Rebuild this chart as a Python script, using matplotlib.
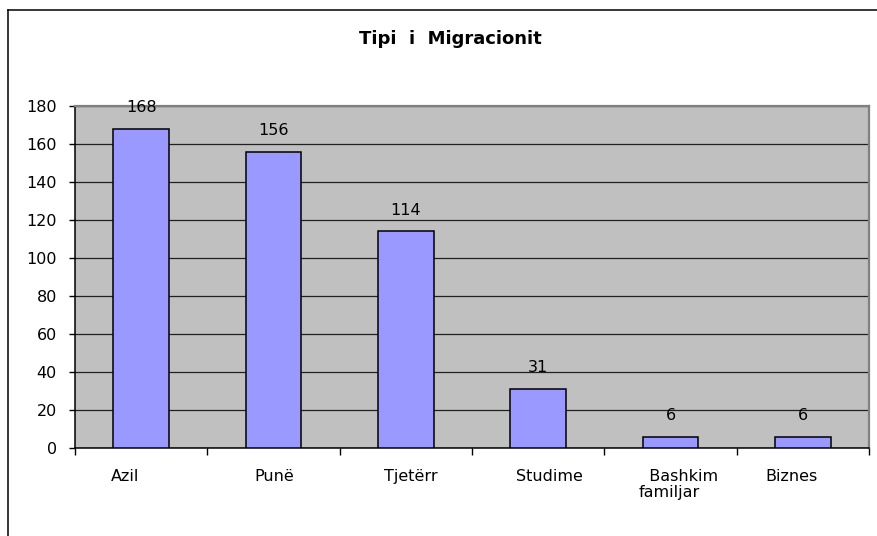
import matplotlib
matplotlib.use("Agg")
import matplotlib.pyplot as plt
from matplotlib.lines import Line2D
from matplotlib.transforms import ScaledTranslation
import numpy as np

categories = ["Azil", "Punë", "Tjetërr", "Studime", "  Bashkim\nfamiljar", "Biznes"]
values = [168, 156, 114, 31, 6, 6]
yticks = [0, 20, 40, 60, 80, 100, 120, 140, 160, 180]
title = "Tipi  i  Migracionit"
# horizontal pixel offsets of category labels (as in the original layout)
label_shift_px = [-16, 1, 5, 11, 8, -11]

plt.rcParams['font.family'] = ['DejaVu Sans']
W, H = 877, 536
dpi = 100
fig = plt.figure(figsize=(W / dpi, H / dpi), dpi=dpi)
fig.patch.set_facecolor("white")

ax = fig.add_axes([75 / W, 1 - 448 / H, (869 - 75) / W, (448 - 106) / H])
ax.set_facecolor("#C0C0C0")

x = np.arange(len(categories))
bars = ax.bar(x, values, width=0.42, color="#9999FF", edgecolor="black",
              linewidth=1.1, zorder=3)

ax.set_xlim(-0.5, len(categories) - 0.5)
ax.set_ylim(0, 180)
ax.set_yticks(yticks)
ax.set_yticklabels([str(v) for v in yticks])
ax.yaxis.grid(True, color="#202020", linewidth=0.9, zorder=1)
ax.set_axisbelow(True)

ax.set_xticks(np.arange(len(categories) + 1) - 0.5, minor=False)
ax.set_xticklabels([])
ax.set_xticks(x, minor=True)
ax.set_xticklabels(categories, minor=True)
ax.tick_params(axis="x", which="major", direction="out", length=5, width=1, color="black")
ax.tick_params(axis="x", which="minor", length=0, pad=15, labelsize=11.5)
ax.tick_params(axis="y", direction="out", length=4, width=1, pad=9, labelsize=11.5)

for lbl, dx in zip(ax.xaxis.get_minorticklabels(), label_shift_px):
    lbl.set_multialignment("left")
    lbl.set_linespacing(1.12)
    lbl.set_transform(lbl.get_transform() + ScaledTranslation(dx / dpi, 0, fig.dpi_scale_trans))

for s in ["top", "right"]:
    ax.spines[s].set_color("#808080")
    ax.spines[s].set_linewidth(1.6)
for s in ["left", "bottom"]:
    ax.spines[s].set_color("black")
    ax.spines[s].set_linewidth(1.1)

for b, v in zip(bars, values):
    ax.annotate(str(v), (b.get_x() + b.get_width() / 2, v), xytext=(0, 12),
                textcoords="offset points", ha="center", va="baseline",
                fontsize=11.5, zorder=4)

fig.text(450 / W, 1 - 44 / H, title, ha="center", va="baseline",
         fontsize=13, fontweight="bold")

# outer chart border (top and left visible)
fig.add_artist(Line2D([8 / W, 8 / W], [-0.05, 1 - 10 / H], color="black", linewidth=1.1,
                      transform=fig.transFigure))
fig.add_artist(Line2D([8 / W, 1.05], [1 - 10 / H, 1 - 10 / H], color="black", linewidth=1.1,
                      transform=fig.transFigure))

fig.savefig("out.png", dpi=dpi)
